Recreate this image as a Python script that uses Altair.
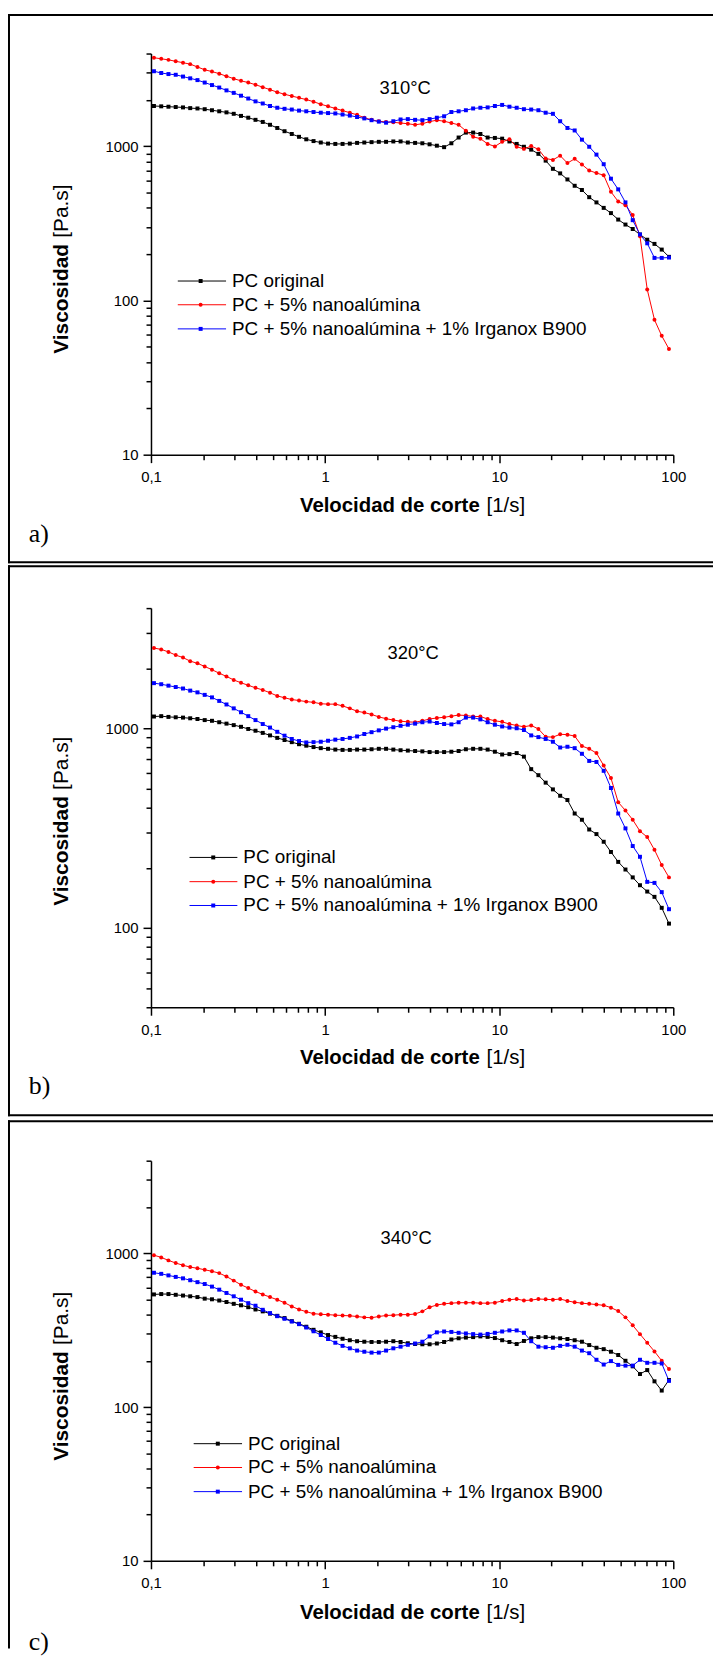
import altair as alt
import pandas as pd

# ---------------- data ----------------
X = [0.104, 0.1145, 0.126, 0.1387, 0.1527, 0.168, 0.1849, 0.2035, 0.224, 0.2466, 0.2714, 0.2987,
     0.3289, 0.362, 0.3984, 0.4385, 0.4827, 0.5313, 0.5848, 0.6437, 0.7085, 0.7798, 0.8583, 0.9447,
     1.04, 1.145, 1.26, 1.387, 1.527, 1.68, 1.849, 2.035, 2.24, 2.466, 2.714, 2.987,
     3.289, 3.62, 3.984, 4.385, 4.827, 5.313, 5.848, 6.437, 7.085, 7.798, 8.583, 9.447,
     10.4, 11.45, 12.6, 13.87, 15.27, 16.8, 18.49, 20.35, 22.4, 24.66, 27.14, 29.87,
     32.89, 36.2, 39.84, 43.85, 48.27, 53.13, 58.48, 64.37, 70.85, 77.98, 85.83, 94.47]

A_BLACK = [1827, 1818, 1808, 1799, 1789, 1770, 1761, 1742, 1715, 1688, 1661, 1626, 1576, 1534, 1486, 1440, 1380, 1316, 1254, 1203,
           1153, 1111, 1082, 1059, 1042, 1037, 1037, 1042, 1053, 1059, 1065, 1070, 1070, 1076, 1076, 1059, 1053, 1047, 1031, 1010,
           988, 1047, 1141, 1228, 1228, 1203, 1141, 1134, 1122, 1076, 1037, 994, 952, 894, 808, 715, 668, 610, 555, 521,
           468, 433, 399, 369, 335, 311, 291, 268, 248, 233, 214, 192]
A_RED = [3757, 3698, 3639, 3563, 3488, 3415, 3273, 3138, 3056, 2960, 2852, 2748, 2662, 2593, 2511, 2420, 2332, 2247, 2177, 2120,
         2064, 2011, 1948, 1877, 1818, 1761, 1706, 1653, 1601, 1534, 1486, 1455, 1440, 1432, 1417, 1402, 1380, 1402, 1447, 1478,
         1455, 1417, 1380, 1261, 1153, 1122, 1037, 999, 1070, 1111, 994, 963, 1004, 957, 834, 817, 870, 779, 830, 763,
         697, 671, 650, 507, 439, 415, 359, 261, 118, 75, 59, 48.5]
A_BLUE = [3071, 2991, 2944, 2913, 2836, 2762, 2690, 2593, 2498, 2407, 2307, 2223, 2131, 2043, 1958, 1897, 1827, 1780, 1752, 1733,
          1706, 1688, 1670, 1653, 1644, 1635, 1609, 1584, 1550, 1518, 1478, 1447, 1424, 1455, 1494, 1502, 1486, 1478, 1502, 1534,
          1567, 1670, 1688, 1715, 1761, 1780, 1789, 1827, 1857, 1808, 1780, 1742, 1733, 1715, 1653, 1626, 1455, 1316, 1268, 1105,
          994, 884, 766, 617, 526, 433, 332, 268, 235, 189, 189, 190]

B_BLACK = [1145, 1150, 1140, 1135, 1131, 1122, 1113, 1099, 1090, 1072, 1055, 1037, 1017, 992, 972, 948, 921, 895, 873, 852,
           832, 818, 805, 795, 789, 782, 779, 779, 782, 782, 785, 789, 789, 782, 776, 773, 769, 766, 760, 760,
           760, 763, 769, 785, 789, 789, 782, 763, 739, 742, 751, 721, 624, 582, 534, 494, 459, 437, 374, 348,
           311, 295, 270, 240, 214, 196, 179, 163.5, 152, 143, 126, 105]
B_RED = [2524, 2483, 2413, 2326, 2261, 2169, 2116, 2040, 1966, 1887, 1819, 1746, 1690, 1642, 1595, 1556, 1506, 1452, 1422, 1393,
         1377, 1360, 1349, 1327, 1321, 1321, 1295, 1258, 1217, 1198, 1173, 1140, 1117, 1099, 1085, 1077, 1072, 1090, 1113, 1126,
         1135, 1150, 1164, 1159, 1145, 1145, 1113, 1090, 1077, 1050, 1033, 1017, 1033, 992, 906, 903, 933, 929, 914, 815,
         789, 751, 650, 563, 426, 387, 348, 305, 285, 246, 206.5, 179]
B_BLUE = [1683, 1662, 1635, 1609, 1582, 1544, 1513, 1470, 1428, 1371, 1316, 1258, 1203, 1150, 1099, 1050, 1008, 960, 918, 884,
          863, 849, 852, 856, 866, 877, 884, 895, 910, 936, 956, 976, 996, 1012, 1029, 1042, 1055, 1072, 1081, 1063,
          1050, 1046, 1072, 1131, 1131, 1108, 1072, 1042, 1021, 1008, 1000, 980, 921, 903, 884, 856, 801, 808, 795, 745,
          686, 678, 612, 502, 374, 315, 257, 227, 170, 168, 151, 124]

C_BLACK = [540, 543, 543, 537, 531, 525, 519, 507, 502, 493, 482, 469, 459, 446, 431, 419, 405, 392, 379, 362,
           348, 333, 318, 306, 294, 286, 278, 272, 268, 266, 265, 265, 266, 268, 265, 260, 257, 256, 256, 259,
           265, 275, 280, 283, 285, 288, 286, 281, 272, 265, 257, 269, 280, 285, 285, 283, 280, 277, 272, 266,
           253, 243, 238, 229, 218, 200, 184, 164, 174, 147, 128, 150]
C_RED = [972, 940, 899, 864, 836, 813, 799, 781, 764, 743, 706, 664, 624, 594, 564, 540, 519, 499, 477, 451,
         431, 417, 405, 401, 399, 396, 394, 392, 388, 383, 381, 388, 394, 396, 399, 399, 403, 419, 446, 461,
         469, 474, 477, 477, 477, 474, 474, 477, 490, 499, 504, 493, 496, 504, 502, 499, 504, 490, 480, 474,
         469, 464, 459, 443, 421, 383, 340, 298, 262, 230, 200, 177]
C_BLUE = [747, 735, 718, 702, 687, 668, 649, 631, 607, 580, 552, 525, 499, 474, 456, 429, 408, 390, 375, 360,
          346, 329, 311, 294, 277, 262, 250, 241, 233, 229, 226, 226, 233, 241, 247, 254, 259, 266, 288, 306,
          310, 308, 304, 301, 298, 296, 299, 304, 310, 315, 315, 304, 268, 247, 245, 243, 250, 254, 247, 233,
          224, 203, 189, 199, 188, 186, 186, 203, 194, 194, 192, 148]

SERIES = ["PC original", "PC + 5% nanoalúmina", "PC + 5% nanoalúmina + 1% Irganox B900"]
COLORS = ["#000000", "#ff0000", "#0000ff"]
SHAPES = ["square", "circle", "square"]
TEMPS = ["310°C", "320°C", "340°C"]
LETTERS = ["a)", "b)", "c)"]
VALUES = [[A_BLACK, A_RED, A_BLUE], [B_BLACK, B_RED, B_BLUE], [C_BLACK, C_RED, C_BLUE]]
Y_DOMAINS = [[10, 4000], [40, 4000], [10, 4000]]
Y_TICKS_FULL = [10, 20, 30, 40, 50, 60, 70, 80, 90, 100, 200, 300, 400, 500, 600, 700, 800, 900, 1000, 2000, 3000, 4000]
Y_TICKS_B = [40, 50, 60, 70, 80, 90, 100, 200, 300, 400, 500, 600, 700, 800, 900, 1000, 2000, 3000, 4000]
Y_TICKS = [Y_TICKS_FULL, Y_TICKS_B, Y_TICKS_FULL]
X_TICKS = [0.1, 0.2, 0.3, 0.4, 0.5, 0.6, 0.7, 0.8, 0.9, 1, 2, 3, 4, 5, 6, 7, 8, 9,
           10, 20, 30, 40, 50, 60, 70, 80, 90, 100]

X_TITLE = ("Velocidad de corte", "[1/s]")
Y_TITLE = ("Viscosidad", "[Pa.s]")

# ---------------- layout (page pixels) ----------------
FONT = "Liberation Sans"
SERIF = "Liberation Serif"
PLOT_LEFT = 152.0
PLOT_W = 526
PLOT_TOPS = [47.7, 606.2, 1162.7]
PLOT_HS = [404, 402, 403]
GAP = 154.5
RIGHT = 718

GEOM = [
    dict(frames=[(8, RIGHT, 8, 10), (8, RIGHT, 559, 561), (8, 10, 8, 561)],
         temp=(408, 82), xt_y=503, yt_bottom=350, letter_y=532,
         leg_y=[276.8, 300.7, 325.0], leg_line=(179, 227.6), leg_mark=202, leg_text=233.6),
    dict(frames=[(8, RIGHT, 563, 565), (8, RIGHT, 1116, 1118), (8, 10, 563, 1118)],
         temp=(416, 651.4), xt_y=1059.6, yt_bottom=906, letter_y=1088,
         leg_y=[857.3, 881.7, 905.7], leg_line=(190.8, 239), leg_mark=214.7, leg_text=245),
    dict(frames=[(8, RIGHT, 1122, 1124), (8, 10, 1122, 1654)],
         temp=(409, 1240.4), xt_y=1618, yt_bottom=1465, letter_y=1647,
         leg_y=[1447.7, 1471.7, 1496.0], leg_line=(195, 243.7), leg_mark=219.3, leg_text=249.7),
]

ONE = pd.DataFrame({"k": [0]})


def make_panel(k):
    top = PLOT_TOPS[k]
    g = GEOM[k]

    def rx(px):
        return px - PLOT_LEFT

    def ry(py):
        return py - top

    rows = []
    for s, vals in zip(SERIES, VALUES[k]):
        for xv, yv in zip(X, vals):
            rows.append({"x": xv, "v": yv, "s": s})
    df = pd.DataFrame(rows)

    xaxis = alt.Axis(
        values=X_TICKS, title=None, grid=False,
        labelExpr="datum.value == 0.1 ? '0,1' : (indexof([1, 10, 100], datum.value) >= 0 ? '' + datum.value : '')",
        tickSize={"condition": {"test": "indexof([0.1, 1, 10, 100], datum.value) >= 0", "value": 8}, "value": 5},
        labelPadding=7, labelFont=FONT, labelFontSize=15, labelColor="black",
        domainColor="black", tickColor="black", domainWidth=1.5, tickWidth=1.5,
        labelOverlap=False, labelFlush=False, labelBound=False)
    yaxis = alt.Axis(
        values=Y_TICKS[k], title=None, grid=False,
        labelExpr="indexof([10, 100, 1000], datum.value) >= 0 ? '' + datum.value : ''",
        tickSize={"condition": {"test": "indexof([10, 100, 1000], datum.value) >= 0", "value": 8}, "value": 5},
        labelPadding=5, labelFont=FONT, labelFontSize=15, labelColor="black",
        domainColor="black", tickColor="black", domainWidth=1.5, tickWidth=1.5,
        labelOverlap=False, labelFlush=False, labelBound=False)

    xenc = alt.X("x:Q", scale=alt.Scale(type="log", domain=[0.1, 100], nice=False), axis=xaxis)
    yenc = alt.Y("v:Q", scale=alt.Scale(type="log", domain=Y_DOMAINS[k], nice=False), axis=yaxis)
    color = alt.Color("s:N", scale=alt.Scale(domain=SERIES, range=COLORS), legend=None)
    shape = alt.Shape("s:N", scale=alt.Scale(domain=SERIES, range=SHAPES), legend=None)

    base = alt.Chart(df)
    lines = base.mark_line(strokeWidth=1).encode(x=xenc, y=yenc, color=color)
    pts = base.mark_point(filled=True, size=16, opacity=1).encode(x=xenc, y=yenc, color=color, shape=shape)

    layers = [lines, pts]

    # frame lines of the panel box
    for (x1, x2, y1, y2) in g["frames"]:
        layers.append(alt.Chart(ONE).mark_rect(color="black").encode(
            x=alt.value(rx(x1)), x2=alt.value(rx(x2)), y=alt.value(ry(y1)), y2=alt.value(ry(y2))))

    def text(s, x, y, **kw):
        return alt.Chart(ONE).mark_text(text=s, color="black", **kw).encode(
            x=alt.value(rx(x)), y=alt.value(ry(y)))

    # temperature label
    tx, ty = g["temp"]
    layers.append(text(TEMPS[k], tx, ty, font=FONT, fontSize=18.5, align="center", baseline="middle"))

    # x axis title (bold + normal)
    xfs = 20.5
    x0 = 302
    layers.append(text(X_TITLE[0], x0, g["xt_y"], font=FONT, fontSize=xfs, fontWeight="bold",
                       align="left", baseline="middle"))
    layers.append(text(X_TITLE[1], x0 + (8.892 + 0.278) * xfs, g["xt_y"], font=FONT, fontSize=xfs,
                       align="left", baseline="middle"))

    # y axis title (rotated)
    yfs = 21
    yb = g["yt_bottom"]
    layers.append(text(Y_TITLE[0], 62, yb, font=FONT, fontSize=yfs, fontWeight="bold", angle=270,
                       align="left", baseline="middle"))
    layers.append(text(Y_TITLE[1], 62, yb - (5.28 + 0.278) * yfs, font=FONT, fontSize=yfs, angle=270,
                       align="left", baseline="middle"))

    # panel letter
    layers.append(text(LETTERS[k], 29, g["letter_y"], font=SERIF, fontSize=26, align="left", baseline="middle"))

    # legend
    lx0, lx1 = g["leg_line"]
    for i, (s, c, shp) in enumerate(zip(SERIES, COLORS, SHAPES)):
        yy = g["leg_y"][i]
        layers.append(alt.Chart(ONE).mark_rule(color=c, strokeWidth=1).encode(
            x=alt.value(rx(lx0)), x2=alt.value(rx(lx1)), y=alt.value(ry(yy))))
        layers.append(alt.Chart(ONE).mark_point(filled=True, shape=shp, size=16, color=c, opacity=1).encode(
            x=alt.value(rx(g["leg_mark"])), y=alt.value(ry(yy))))
        layers.append(text(s, g["leg_text"], yy, font=FONT, fontSize=19, align="left", baseline="middle"))

    return alt.layer(*layers).properties(width=PLOT_W, height=PLOT_HS[k])


panels = [make_panel(k) for k in range(3)]

chart = alt.vconcat(*panels, spacing=GAP, bounds="flush").properties(
    padding=0, background="white"
).configure_view(stroke=None)

chart.save("out.html", embed_options={"renderer": "svg", "actions": False})
